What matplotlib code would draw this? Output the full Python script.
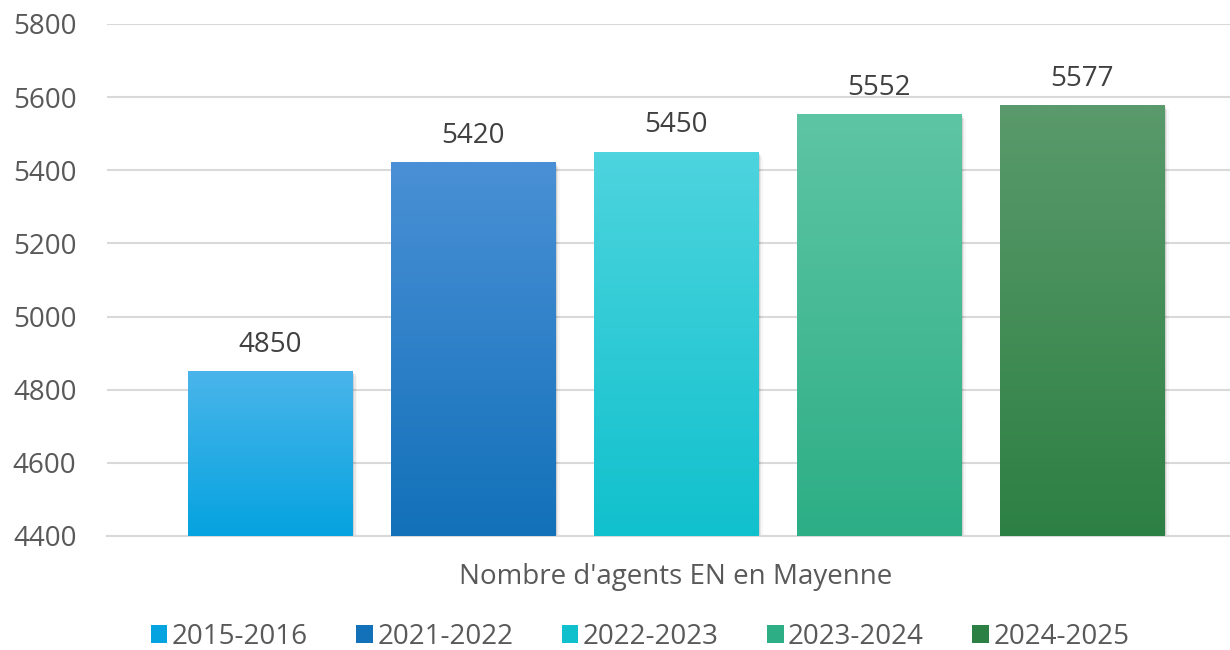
import matplotlib
matplotlib.use("Agg")
import matplotlib.pyplot as plt
import numpy as np
from matplotlib.colors import to_rgb
from matplotlib.patches import Rectangle, Patch
import matplotlib.transforms as mtransforms

plt.rcParams['font.family'] = ['Open Sans', 'DejaVu Sans']

series = ["2015-2016", "2021-2022", "2022-2023", "2023-2024", "2024-2025"]
values = [4850, 5420, 5450, 5552, 5577]
category = "Nombre d'agents EN en Mayenne"
top_colors = ["#4AB5EA", "#4A90D6", "#4DD4DE", "#5EC5A4", "#5A9A6C"]
bottom_colors = ["#05A3E0", "#1271B9", "#10C1CD", "#2DAE85", "#2D8043"]
yticks = [4400, 4600, 4800, 5000, 5200, 5400, 5600, 5800]

fig = plt.figure(figsize=(12.3, 6.5), dpi=100)
ax = fig.add_axes([107/1230, 1 - 536/650, 1 - 107/1230, (536 - 24)/650])

x = np.arange(len(series))
bars = ax.bar(x, [v - 4400 for v in values], bottom=4400, width=0.81,
              color="none", edgecolor="none", zorder=3)

ax.set_ylim(4400, 5800)
ax.set_xlim(-0.805, 4.729)

for i, b in enumerate(bars):
    bb = b.get_bbox()
    # soft shadow
    for k, (dx, dy, a) in enumerate([(1.5, -1.5, 0.10), (3, -3, 0.06), (4.5, -4.5, 0.03)]):
        off = mtransforms.offset_copy(ax.transData, fig=fig, x=dx, y=dy, units='dots')
        ax.add_patch(Rectangle((bb.x0, bb.y0), bb.width, bb.height,
                               transform=off, facecolor='black', alpha=a,
                               edgecolor='none', zorder=2.5))
    c1 = np.array(to_rgb(top_colors[i]))
    c2 = np.array(to_rgb(bottom_colors[i]))
    t = np.linspace(0, 1, 256)[:, None]
    grad = (c1[None, :] * (1 - t) + c2[None, :] * t)[:, None, :]
    ax.imshow(grad, extent=[bb.x0, bb.x1, bb.y0, bb.y1], aspect='auto',
              origin='upper', zorder=3, interpolation='bilinear')
    ax.annotate(str(values[i]), (bb.x0 + bb.width / 2, bb.y1),
                xytext=(0, 9), textcoords='offset points', ha='center',
                va='bottom', fontsize=20, color='#404040', zorder=4)

ax.set_xlim(-0.805, 4.729)
ax.set_ylim(4400, 5800)
ax.set_yticks(yticks)
ax.set_yticklabels([str(v) for v in yticks], fontsize=20, color='#595959')
ax.yaxis.grid(True, color='#D9D9D9', linewidth=1.5, zorder=0)
ax.set_axisbelow(True)
ax.tick_params(axis='y', length=0, pad=22)
ax.tick_params(axis='x', length=0)
ax.set_xticks([])
for s in ['top', 'right', 'left']:
    ax.spines[s].set_visible(False)
ax.spines['bottom'].set_color('#D9D9D9')
ax.spines['bottom'].set_linewidth(1.5)

fig.text(676/1230, 1 - 577/650, category, ha='center', va='center',
         fontsize=20, color='#595959')

handles = [Patch(facecolor=bottom_colors[i], edgecolor='none') for i in range(len(series))]
leg = fig.legend(handles, series, loc='center', bbox_to_anchor=(640/1230, 1 - 637/650),
                 ncol=5, frameon=False, fontsize=20, handlelength=0.6,
                 handleheight=0.6, handletextpad=0.15, columnspacing=1.75)
for t in leg.get_texts():
    t.set_color('#595959')

fig.savefig("out.png", dpi=100)
